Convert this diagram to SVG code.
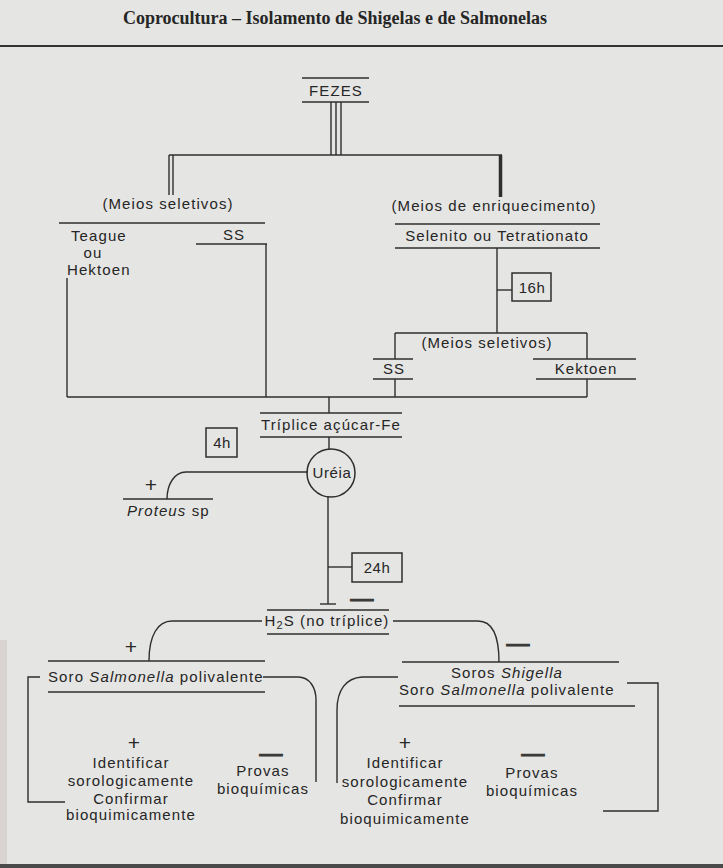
<svg xmlns="http://www.w3.org/2000/svg" width="723" height="868" viewBox="0 0 723 868">
<style>
.t{font-family:"Liberation Sans",Arial,sans-serif;font-size:15px;letter-spacing:1.1px;fill:#262626}
.c{text-anchor:middle}
.i{font-style:italic}
.ln{stroke:#2e2e2e;stroke-width:1.4;fill:none}
.bx{stroke:#2e2e2e;stroke-width:1.5;fill:none}
.pl{font-family:"Liberation Sans",Arial,sans-serif;font-size:21px;fill:#2a2a2a;text-anchor:middle}
.mn{font-family:"Liberation Sans",Arial,sans-serif;font-size:16px;font-weight:bold;fill:#3a3a3a;stroke:#3a3a3a;stroke-width:1.2;text-anchor:middle}
</style>
<rect width="723" height="868" fill="#e5e5e3"/>
<rect x="0" y="640" width="7" height="228" fill="#d9d3d1"/>
<rect x="0" y="864" width="723" height="4" fill="#4a4a4a"/>

<g id="title">
<text x="335" y="24" text-anchor="middle" style="font-family:'Liberation Serif','Times New Roman',serif;font-size:18px;font-weight:bold;fill:#262626">Coprocultura – Isolamento de Shigelas e de Salmonelas</text>
<line x1="0" y1="46" x2="723" y2="46" stroke="#333" stroke-width="1.8"/>
</g>

<g id="connectors">
<line class="ln" x1="331" y1="102" x2="331" y2="155"/>
<line class="ln" x1="336" y1="102" x2="336" y2="155"/>
<line class="ln" x1="341" y1="102" x2="341" y2="155"/>
<line class="ln" x1="169" y1="155" x2="502" y2="155"/>
<line class="ln" x1="169" y1="155" x2="169" y2="195"/>
<line class="ln" x1="173" y1="155" x2="173" y2="195"/>
<line x1="500.5" y1="155" x2="500.5" y2="197" stroke="#2e2e2e" stroke-width="3.5"/>
<line class="ln" x1="266" y1="244" x2="266" y2="397"/>
<line class="ln" x1="67" y1="278" x2="67" y2="397"/>
<line class="ln" x1="67" y1="397" x2="587" y2="397"/>
<line class="ln" x1="497" y1="248" x2="497" y2="333"/>
<line class="ln" x1="497" y1="290" x2="512" y2="290"/>
<line class="ln" x1="395" y1="333" x2="587" y2="333"/>
<line class="ln" x1="395" y1="333" x2="395" y2="359"/>
<line class="ln" x1="587" y1="333" x2="587" y2="359"/>
<line class="ln" x1="395" y1="379" x2="395" y2="397"/>
<line class="ln" x1="587" y1="379" x2="587" y2="397"/>
<line class="ln" x1="329" y1="397" x2="329" y2="413"/>
<line class="ln" x1="329" y1="437" x2="329" y2="450"/>
<path class="ln" d="M308,472 H186 C174,472 167,485 167,499"/>
<line class="ln" x1="328" y1="496" x2="328" y2="604"/>
<line class="ln" x1="320" y1="604" x2="336" y2="604"/>
<line class="ln" x1="328" y1="567" x2="352" y2="567"/>
<path class="ln" d="M262,621 H172 C158,621 149,635 149,661"/>
<path class="ln" d="M393,621 H478 C491,621 499,633 499,662"/>
<path class="ln" d="M263,677 H298 C310,677 316,688 316,700 V782"/>
<path class="ln" d="M40,677 H28 V802 H65"/>
<path class="ln" d="M398,677 H362 C346,678 337,690 337,710 V783"/>
<path class="ln" d="M627,683 H658 V811 H603"/>
</g>

<g id="fezes">
<line class="ln" x1="302" y1="78" x2="369" y2="78"/>
<text class="t c" x="336" y="96">FEZES</text>
<line class="ln" x1="302" y1="102" x2="369" y2="102"/>
</g>

<g id="meios-seletivos-1">
<text class="t c" x="168" y="209">(Meios seletivos)</text>
<line class="ln" x1="59" y1="223" x2="265" y2="223"/>
</g>

<g id="teague-hektoen">
<text class="t" x="71" y="241">Teague</text>
<text class="t c" x="93" y="258">ou</text>
<text class="t" x="67" y="275">Hektoen</text>
</g>

<g id="ss-1">
<text class="t c" x="234" y="240">SS</text>
<line class="ln" x1="196" y1="244" x2="267" y2="244"/>
</g>

<g id="meios-enriquecimento">
<text class="t c" x="494" y="211">(Meios de enriquecimento)</text>
</g>

<g id="selenito">
<line class="ln" x1="395" y1="224" x2="600" y2="224"/>
<text class="t c" x="497" y="241">Selenito ou Tetrationato</text>
<line class="ln" x1="395" y1="248" x2="600" y2="248"/>
</g>

<g id="t16h">
<rect class="bx" x="512" y="273" width="39" height="28"/>
<text class="t c" x="532" y="293" style="letter-spacing:0.5px">16h</text>
</g>

<g id="meios-seletivos-2">
<text class="t c" x="487" y="348">(Meios seletivos)</text>
</g>

<g id="ss-2">
<line class="ln" x1="373" y1="359" x2="413" y2="359"/>
<text class="t c" x="394" y="374">SS</text>
<line class="ln" x1="373" y1="379" x2="413" y2="379"/>
</g>

<g id="kektoen">
<line class="ln" x1="533" y1="359" x2="636" y2="359"/>
<text class="t c" x="586" y="374">Kektoen</text>
<line class="ln" x1="536" y1="379" x2="636" y2="379"/>
</g>

<g id="triplice">
<line class="ln" x1="260" y1="413" x2="402" y2="413"/>
<text class="t c" x="331" y="430">Tríplice açúcar-Fe</text>
<line class="ln" x1="260" y1="437" x2="402" y2="437"/>
</g>

<g id="t4h">
<rect class="bx" x="206" y="428" width="31" height="29"/>
<text class="t c" x="222" y="448" style="letter-spacing:0.5px">4h</text>
</g>

<g id="ureia">
<circle class="bx" cx="331" cy="473" r="24"/>
<text class="t c" x="332" y="478" style="letter-spacing:0.6px">Uréia</text>
</g>

<g id="proteus">
<text class="pl" x="151" y="492">+</text>
<line class="ln" x1="123" y1="499" x2="213" y2="499"/>
<text class="t" x="127" y="516"><tspan class="i">Proteus</tspan> sp</text>
</g>

<g id="t24h">
<rect class="bx" x="352" y="553" width="50" height="29"/>
<text class="t c" x="377" y="573" style="letter-spacing:0.5px">24h</text>
</g>

<g id="h2s">
<text class="mn" x="0" y="0" transform="translate(362,605) scale(1.4,1)">—</text>
<line class="ln" x1="267" y1="610" x2="389" y2="610"/>
<text class="t c" x="327" y="626">H<tspan font-size="11" dy="3">2</tspan><tspan dy="-3">S (no tríplice)</tspan></text>
<line class="ln" x1="267" y1="634" x2="389" y2="634"/>
</g>

<g id="soro-salmonella">
<text class="pl" x="131" y="654">+</text>
<line class="ln" x1="48" y1="661" x2="265" y2="661"/>
<text class="t" x="48" y="682">Soro <tspan class="i">Salmonella</tspan> polivalente</text>
<line class="ln" x1="48" y1="692" x2="265" y2="692"/>
</g>

<g id="soros-shigella">
<text class="mn" x="0" y="0" transform="translate(518,650) scale(1.4,1)">—</text>
<line class="ln" x1="402" y1="662" x2="619" y2="662"/>
<text class="t c" x="507" y="678">Soros <tspan class="i">Shigella</tspan></text>
<text class="t" x="399" y="695">Soro <tspan class="i">Salmonella</tspan> polivalente</text>
<line class="ln" x1="399" y1="706" x2="635" y2="706"/>
</g>

<g id="resultado-1-pos">
<text class="pl" x="134" y="750">+</text>
<text class="t c" x="131" y="768">Identificar</text>
<text class="t c" x="131" y="786">sorologicamente</text>
<text class="t c" x="131" y="804">Confirmar</text>
<text class="t c" x="131" y="820">bioquimicamente</text>
</g>

<g id="resultado-1-neg">
<text class="mn" x="0" y="0" transform="translate(271,760) scale(1.4,1)">—</text>
<text class="t c" x="263" y="776">Provas</text>
<text class="t c" x="263" y="794">bioquímicas</text>
</g>

<g id="resultado-2-pos">
<text class="pl" x="405" y="750">+</text>
<text class="t c" x="405" y="768">Identificar</text>
<text class="t c" x="405" y="787">sorologicamente</text>
<text class="t c" x="405" y="805">Confirmar</text>
<text class="t c" x="405" y="824">bioquimicamente</text>
</g>

<g id="resultado-2-neg">
<text class="mn" x="0" y="0" transform="translate(533,760) scale(1.4,1)">—</text>
<text class="t c" x="532" y="778">Provas</text>
<text class="t c" x="532" y="796">bioquímicas</text>
</g>
</svg>
